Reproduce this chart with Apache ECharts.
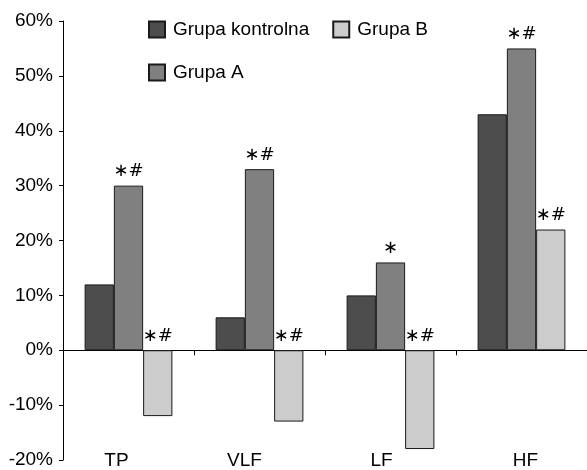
<!DOCTYPE html>
<html>
<head>
<meta charset="utf-8">
<script src="https://cdn.jsdelivr.net/npm/echarts@6/dist/echarts.min.js"></script>
<style>
  html, body { margin: 0; padding: 0; background: #fff; }
  #chart { width: 587px; height: 470px; }
</style>
</head>
<body>
<div id="chart"></div>
<script>
// HRV spectral components, percentage change per group
const categories = ['TP', 'VLF', 'LF', 'HF'];
const seriesNames = ['Grupa kontrolna', 'Grupa A', 'Grupa B'];
const controlValues = [12, 6, 10, 43];
const groupAValues = [30, 33, 16, 55];
const groupBValues = [-12, -13, -18, 22];
// significance marks drawn over each bar
const controlMarks = ['', '', '', ''];
const groupAMarks = ['∗#', '∗#', '∗', '∗#'];
const groupBMarks = ['∗#', '∗#', '∗#', '∗#'];
const yTicks = [-20, -10, 0, 10, 20, 30, 40, 50, 60];

const FONT = '"Liberation Sans", Arial, sans-serif';
const colors = ['#4d4d4d', '#808080', '#cccccc'];
const labelShift = { TP: -12, VLF: -15, LF: -9, HF: 4 };

function barSeries(name, values, marks, color) {
  return {
    name: name,
    type: 'bar',
    xAxisIndex: 0,
    barGap: '0%',
    barCategoryGap: '33%',
    itemStyle: { color: color, borderColor: '#1a1a1a', borderWidth: 1 },
    data: values.map((v, i) => ({
      value: v,
      label: {
        show: marks[i] !== '',
        formatter: marks[i],
        position: 'top',
        distance: 5,
        color: '#000',
        fontFamily: '"DejaVu Sans", sans-serif',
        fontSize: 18
      }
    }))
  };
}

const rich = {};
categories.forEach((c, i) => {
  const s = labelShift[c];
  rich['c' + i] = {
    fontFamily: FONT, fontSize: 19, color: '#000',
    padding: s < 0 ? [0, -2 * s, 0, 0] : [0, 0, 0, 2 * s]
  };
});

const legendText = { fontFamily: FONT, fontSize: 19, color: '#000', padding: [0, 0, 0, 3] };

const chart = echarts.init(document.getElementById('chart'), null, { renderer: 'canvas' });
chart.setOption({
  animation: false,
  textStyle: { fontFamily: FONT },
  grid: { left: 63, right: 0, top: 21, bottom: 10, containLabel: false },
  legend: [
    {
      data: [seriesNames[0], seriesNames[2]],
      left: 148, top: 20, padding: 0,
      orient: 'horizontal',
      itemWidth: 16, itemHeight: 16, itemGap: 23,
      icon: 'rect',
      textStyle: legendText
    },
    {
      data: [seriesNames[1]],
      left: 148, top: 63, padding: 0,
      itemWidth: 16, itemHeight: 16,
      icon: 'rect',
      textStyle: legendText
    }
  ],
  xAxis: [
    {
      type: 'category',
      data: categories,
      axisLine: { onZero: true, lineStyle: { color: '#000', width: 1 } },
      axisTick: { show: true, length: 5, lineStyle: { color: '#000' } },
      axisLabel: { show: false }
    },
    {
      type: 'category',
      data: categories,
      position: 'bottom',
      axisLine: { show: false, onZero: false },
      axisTick: { show: false },
      axisLabel: {
        margin: -9,
        formatter: (v) => '{c' + categories.indexOf(v) + '|' + v + '}',
        rich: rich
      }
    }
  ],
  yAxis: {
    type: 'value',
    min: yTicks[0],
    max: yTicks[yTicks.length - 1],
    interval: 10,
    axisLine: { show: true, lineStyle: { color: '#000', width: 1 } },
    axisTick: { show: true, length: 4, lineStyle: { color: '#000' } },
    splitLine: { show: false },
    axisLabel: {
      formatter: '{value}%',
      margin: 10,
      fontFamily: FONT, fontSize: 19, color: '#000'
    }
  },
  series: [
    barSeries(seriesNames[0], controlValues, controlMarks, colors[0]),
    barSeries(seriesNames[1], groupAValues, groupAMarks, colors[1]),
    barSeries(seriesNames[2], groupBValues, groupBMarks, colors[2])
  ]
});
</script>
</body>
</html>
